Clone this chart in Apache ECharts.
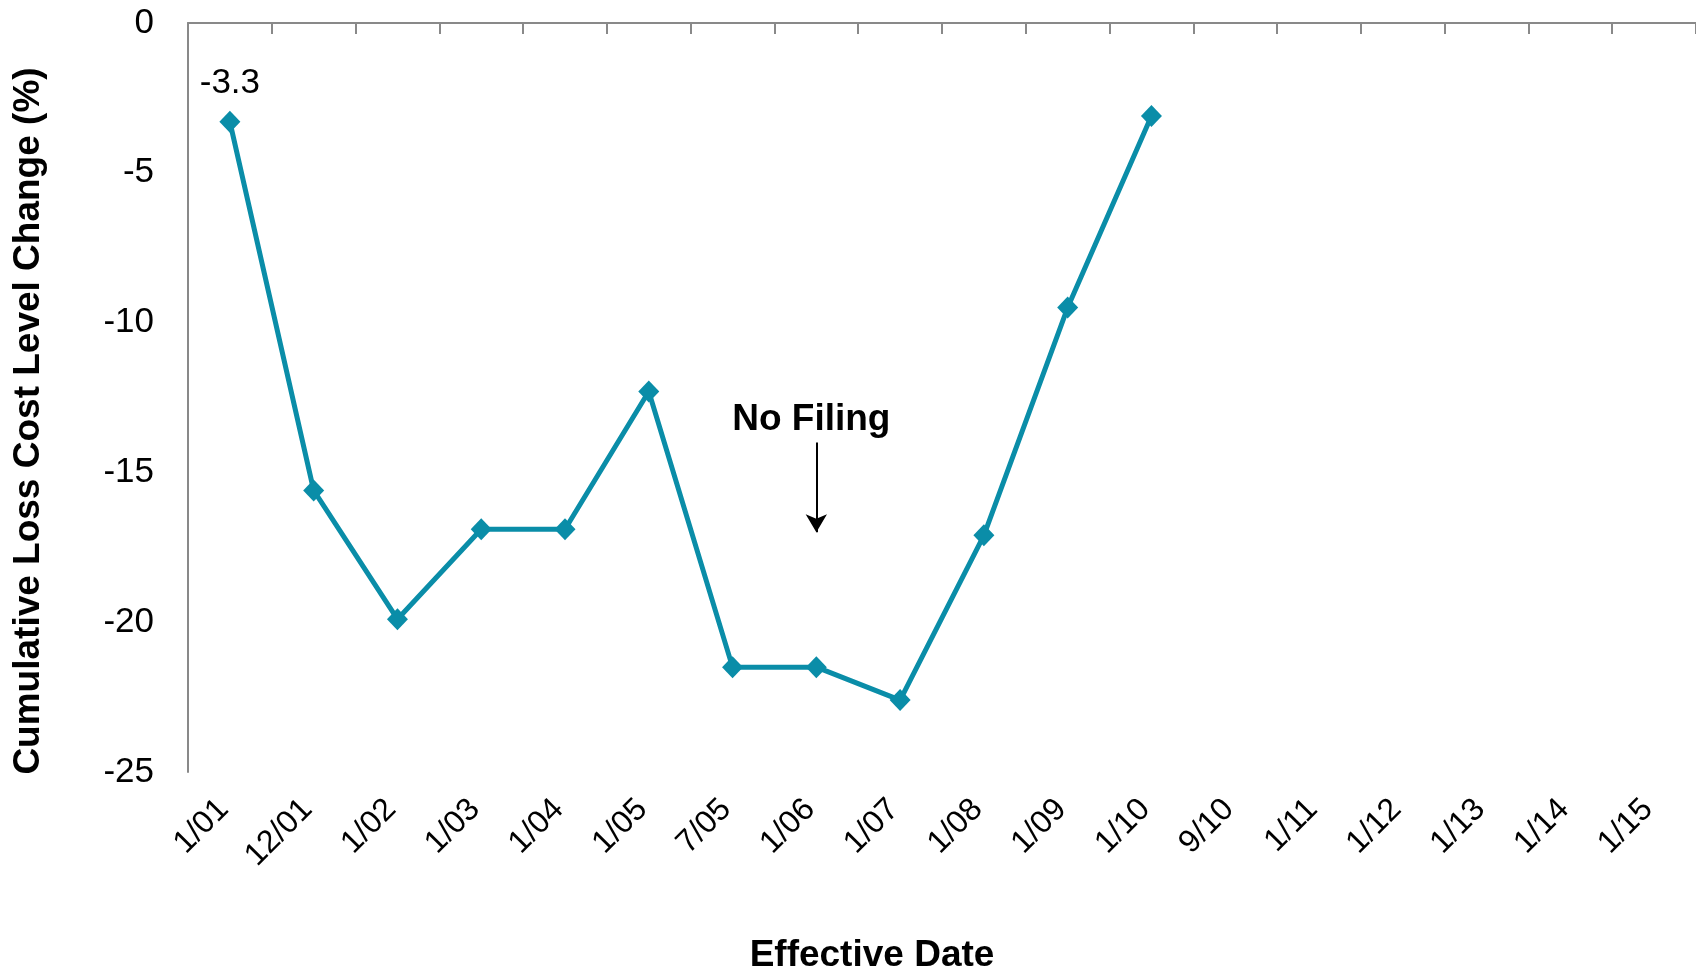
<!DOCTYPE html>
<html>
<head>
<meta charset="utf-8">
<script src="https://cdn.jsdelivr.net/npm/echarts@6/dist/echarts.min.js"></script>
<style>
html,body{margin:0;padding:0;background:#fff;}
#chart{width:1696px;height:973px;}
</style>
</head>
<body>
<div id="chart"></div>
<script>
const categories = ['1/01','12/01','1/02','1/03','1/04','1/05','7/05','1/06','1/07','1/08','1/09','1/10','9/10','1/11','1/12','1/13','1/14','1/15'];
const values = [-3.3, -15.6, -19.9, -16.9, -16.9, -12.3, -21.5, -21.5, -22.6, -17.1, -9.5, -3.1, null, null, null, null, null, null];
const yTicks = { min: -25, max: 0, interval: 5 };
const noFilingCategory = '1/06';
const noFilingArrow = [-14.0, -17.0];
const noFilingTextValue = -13.25;

const FONT = 'Liberation Sans, Arial, sans-serif';
const LINE = '#0A8DA8';
const AXIS = '#898989';

const chart = echarts.init(document.getElementById('chart'));
chart.setOption({
  animation: false,
  backgroundColor: '#fff',
  grid: { left: 188, top: 23, right: 0, bottom: 201, containLabel: false, outerBoundsMode: 'none' },
  xAxis: [
    {
      type: 'category', data: categories, position: 'top', boundaryGap: true,
      axisLine: { show: true, lineStyle: { color: AXIS, width: 2 } },
      axisTick: { show: true, inside: true, length: 11, lineStyle: { color: AXIS, width: 2 } },
      axisLabel: { show: false },
      splitLine: { show: false }
    },
    {
      type: 'category', data: categories, position: 'bottom', boundaryGap: true,
      axisLine: { show: false }, axisTick: { show: false }, splitLine: { show: false },
      axisLabel: { rotate: 45, margin: 26, fontSize: 32, color: '#000', fontFamily: FONT, interval: 0, padding: [0, 9, 0, 0] }
    }
  ],
  yAxis: {
    type: 'value', min: yTicks.min, max: yTicks.max, interval: yTicks.interval,
    axisLine: { show: true, lineStyle: { color: AXIS, width: 2 } },
    axisTick: { show: false }, splitLine: { show: false },
    axisLabel: { fontSize: 35, color: '#000', fontFamily: FONT, margin: 34 }
  },
  graphic: [
    { type: 'text', x: 29, y: 421, rotation: Math.PI / 2,
      style: { text: 'Cumulative Loss Cost Level Change (%)', font: 'bold 37px ' + FONT, fill: '#000', align: 'center', verticalAlign: 'middle' } },
    { type: 'text', x: 872, y: 956,
      style: { text: 'Effective Date', font: 'bold 37px ' + FONT, fill: '#000', align: 'center', verticalAlign: 'middle' } }
  ],
  series: [{
    type: 'line', data: values, xAxisIndex: 0,
    lineStyle: { color: LINE, width: 5 },
    itemStyle: { color: LINE },
    symbol: 'diamond', symbolSize: [21, 22], showAllSymbol: true,
    label: {
      show: true, position: 'top', distance: 10, fontSize: 35, color: '#000', fontFamily: FONT,
      formatter: p => p.dataIndex === 0 ? String(p.value) : ''
    },
    markLine: {
      silent: true, symbol: ['none', 'arrow'], symbolSize: [16, 18],
      lineStyle: { color: '#000', width: 2, type: 'solid' },
      label: { show: false },
      data: [[{ coord: [noFilingCategory, noFilingArrow[0]] }, { coord: [noFilingCategory, noFilingArrow[1]] }]]
    },
    markPoint: {
      silent: true, symbol: 'circle', symbolSize: 1,
      itemStyle: { color: 'rgba(0,0,0,0)' },
      label: { show: true, position: 'inside', formatter: 'No Filing', fontSize: 37, fontWeight: 'bold', color: '#000', fontFamily: FONT, offset: [-5, 0] },
      data: [{ coord: [noFilingCategory, noFilingTextValue] }]
    }
  }]
});
</script>
</body>
</html>
